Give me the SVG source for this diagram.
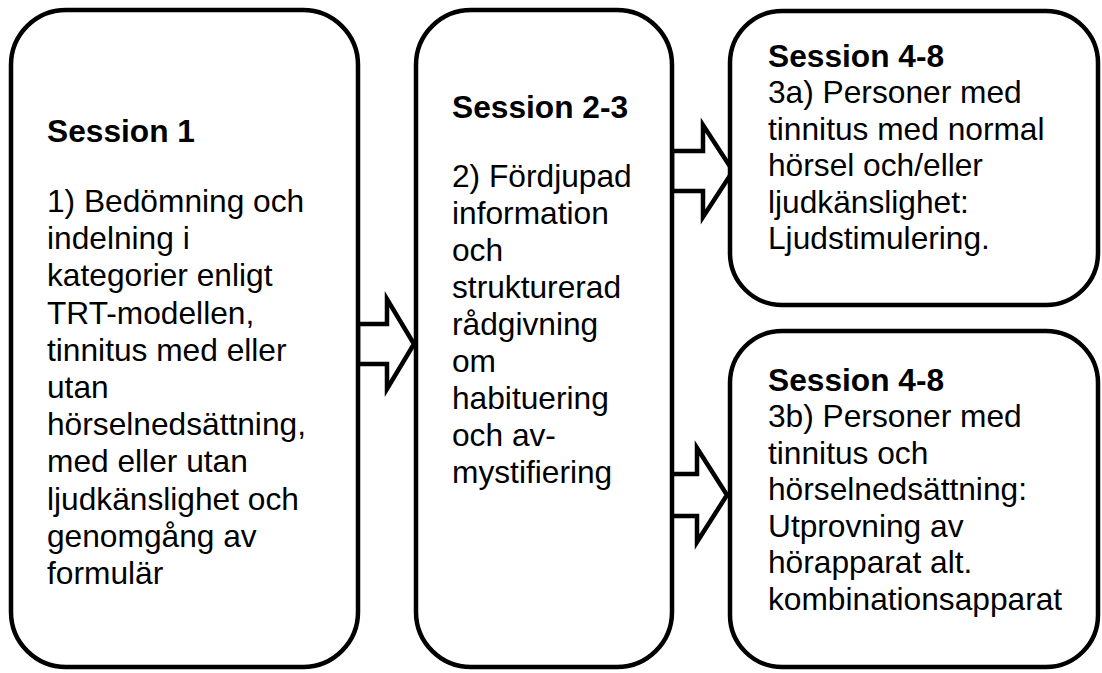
<svg xmlns="http://www.w3.org/2000/svg" width="1102" height="673" viewBox="0 0 1102 673">
<style>
.box{fill:#fff;stroke:#000;stroke-width:4.5}
.arr{fill:#fff;stroke:#000;stroke-width:4.5;stroke-linejoin:miter}
text{font-family:"Liberation Sans",Arial,sans-serif;font-size:31.7px;fill:#000}
.b{font-weight:bold}
</style>
<rect width="1102" height="673" fill="#fff"/>
<g id="connectors">
<polygon class="arr" points="358,324 387,324 387,299 414,344 387,389 387,364 358,364"/>
<polygon class="arr" points="672,151 703,151 703,125 733,171 703,217 703,191 672,191"/>
<polygon class="arr" points="668,474 697,474 697,448 727,495 697,542 697,516 668,516"/>
</g>
<g id="session1">
<rect class="box" x="11" y="10" width="347" height="657" rx="55" ry="55"/>
<text x="47" y="142" class="b">Session 1</text>
<text x="47" y="212">1) Bedömning och</text>
<text x="47" y="249.2">indelning i</text>
<text x="47" y="286.4">kategorier enligt</text>
<text x="47" y="323.6">TRT-modellen,</text>
<text x="47" y="360.8">tinnitus med eller</text>
<text x="47" y="398">utan</text>
<text x="47" y="435.2">hörselnedsättning,</text>
<text x="47" y="472.4">med eller utan</text>
<text x="47" y="509.6">ljudkänslighet och</text>
<text x="47" y="546.8">genomgång av</text>
<text x="47" y="584">formulär</text>
</g>
<g id="session23">
<rect class="box" x="416" y="10" width="256" height="657" rx="55" ry="55"/>
<text x="452" y="118" class="b">Session 2-3</text>
<text x="452" y="187">2) Fördjupad</text>
<text x="452" y="224">information</text>
<text x="452" y="261">och</text>
<text x="452" y="298">strukturerad</text>
<text x="452" y="335">rådgivning</text>
<text x="452" y="372">om</text>
<text x="452" y="409">habituering</text>
<text x="452" y="446">och av-</text>
<text x="452" y="483">mystifiering</text>
</g>
<g id="session48a">
<rect class="box" x="730" y="11" width="368" height="294" rx="52" ry="52"/>
<text x="768" y="66.5" class="b">Session 4-8</text>
<text x="768" y="103">3a) Personer med</text>
<text x="768" y="139.5">tinnitus med normal</text>
<text x="768" y="176">hörsel och/eller</text>
<text x="768" y="212.5">ljudkänslighet:</text>
<text x="768" y="249">Ljudstimulering.</text>
</g>
<g id="session48b">
<rect class="box" x="730" y="331" width="368" height="336" rx="52" ry="52"/>
<text x="768" y="390.5" class="b">Session 4-8</text>
<text x="768" y="427">3b) Personer med</text>
<text x="768" y="463.5">tinnitus och</text>
<text x="768" y="500">hörselnedsättning:</text>
<text x="768" y="536.5">Utprovning av</text>
<text x="768" y="573">hörapparat alt.</text>
<text x="768" y="609.5">kombinationsapparat</text>
</g>
</svg>
